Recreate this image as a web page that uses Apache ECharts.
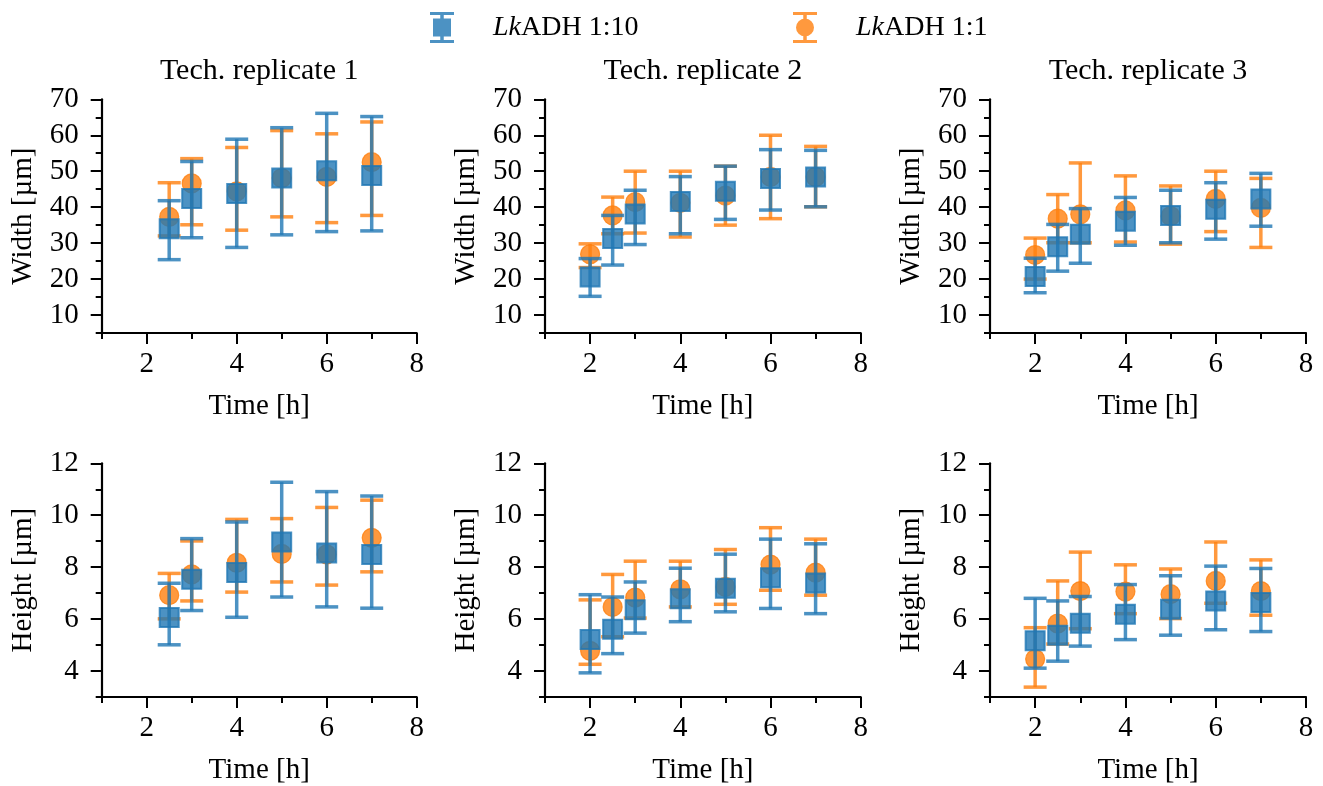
<!DOCTYPE html>
<html><head><meta charset="utf-8">
<script src="https://cdn.jsdelivr.net/npm/echarts@6/dist/echarts.min.js"></script>
<style>html,body{margin:0;padding:0;background:#fff}#c{width:1323px;height:786px}</style>
</head><body><div id="c"></div>
<script>
// ---------- data ----------
const seriesNames = ['LkADH 1:10', 'LkADH 1:1'];
const titles = ['Tech. replicate 1', 'Tech. replicate 2', 'Tech. replicate 3'];
const xTime1 = [2.5, 3, 4, 5, 6, 7];
const xTime23 = [2, 2.5, 3, 4, 5, 6, 7];
const xMajorTicks = [2, 4, 6, 8];
const xMinorTicks = [1, 3, 5, 7];
const widthMajorTicks = [10, 20, 30, 40, 50, 60, 70];
const widthMinorTicks = [5, 15, 25, 35, 45, 55, 65];
const heightMajorTicks = [4, 6, 8, 10, 12];
const heightMinorTicks = [3, 5, 7, 9, 11];

// Width, replicate 1
const w1BlueMean = [34.0, 42.4, 43.8, 48.1, 50.1, 48.8];
const w1BlueLo   = [25.4, 31.5, 28.8, 32.3, 33.2, 33.4];
const w1BlueHi   = [41.8, 52.7, 58.9, 62.1, 66.1, 65.2];
const w1OrgMean  = [37.3, 46.6, 44.4, 48.1, 48.4, 52.5];
const w1OrgLo    = [32.0, 35.1, 33.6, 37.3, 35.7, 37.7];
const w1OrgHi    = [46.8, 53.5, 56.6, 61.3, 60.4, 63.7];
// Width, replicate 2
const w2BlueMean = [20.6, 31.3, 38.1, 41.6, 44.4, 48.0, 48.4];
const w2BlueLo   = [15.2, 23.9, 29.6, 32.6, 36.6, 39.2, 40.1];
const w2BlueHi   = [25.7, 37.7, 44.7, 48.5, 51.4, 56.0, 55.8];
const w2OrgMean  = [26.9, 37.7, 41.4, 41.2, 43.2, 48.4, 48.4];
const w2OrgLo    = [23.2, 32.6, 32.8, 31.7, 35.0, 36.8, 40.1];
const w2OrgHi    = [29.8, 42.8, 50.0, 50.0, 51.4, 60.0, 56.9];
// Width, replicate 3
const w3BlueMean = [20.7, 29.0, 32.5, 36.1, 37.7, 39.4, 42.3];
const w3BlueLo   = [16.2, 22.2, 24.4, 29.4, 30.1, 31.1, 34.7];
const w3BlueHi   = [25.8, 35.2, 39.6, 42.7, 44.7, 46.8, 49.4];
const w3OrgMean  = [26.7, 36.8, 38.0, 39.1, 37.5, 42.3, 39.8];
const w3OrgLo    = [20.0, 30.1, 30.1, 30.3, 29.7, 33.2, 28.8];
const w3OrgHi    = [31.4, 43.5, 52.3, 48.7, 45.9, 50.0, 48.0];
// Height, replicate 1
const h1BlueMean = [6.06, 7.53, 7.79, 8.97, 8.55, 8.49];
const h1BlueLo   = [5.01, 6.33, 6.07, 6.85, 6.47, 6.42];
const h1BlueHi   = [7.38, 9.10, 9.74, 11.27, 10.91, 10.74];
const h1OrgMean  = [6.92, 7.72, 8.17, 8.51, 8.49, 9.13];
const h1OrgLo    = [6.01, 6.70, 7.04, 7.43, 7.31, 7.82];
const h1OrgHi    = [7.76, 9.01, 9.84, 9.87, 10.30, 10.58];
// Height, replicate 2
const h2BlueMean = [5.21, 5.61, 6.36, 6.78, 7.19, 7.59, 7.39];
const h2BlueLo   = [3.93, 4.67, 5.46, 5.90, 6.28, 6.41, 6.21];
const h2BlueHi   = [6.94, 6.85, 7.43, 7.96, 8.50, 9.08, 8.90];
const h2OrgMean  = [4.78, 6.47, 6.83, 7.15, 7.24, 8.10, 7.79];
const h2OrgLo    = [4.26, 5.32, 6.04, 6.47, 6.57, 7.11, 6.92];
const h2OrgHi    = [6.74, 7.72, 8.23, 8.23, 8.68, 9.52, 9.08];
// Height, replicate 3
const h3BlueMean = [5.17, 5.38, 5.84, 6.19, 6.38, 6.70, 6.64];
const h3BlueLo   = [4.11, 4.38, 4.96, 5.21, 5.38, 5.59, 5.52];
const h3BlueHi   = [6.80, 6.70, 6.87, 7.33, 7.67, 8.04, 7.95];
const h3OrgMean  = [4.46, 5.83, 7.08, 7.06, 6.96, 7.47, 7.08];
const h3OrgLo    = [3.38, 5.04, 5.63, 6.21, 6.02, 6.61, 6.15];
const h3OrgHi    = [5.67, 7.47, 8.58, 8.09, 7.93, 8.97, 8.28];

// ---------- style ----------
const FONT = 'Liberation Serif';
const BLUE = 'rgba(31,119,180,0.8)';
const ORANGE = 'rgba(255,127,14,0.8)';
const colLeft = [101.7, 545, 990];
const colWidth = [315, 315.7, 316];
const rowTop = [99.3, 463.3];
const rowHeight = [233.7, 235];

const panels = [
  {row:0,col:0,x:xTime1, yName:'Width [µm]', yMin:5, yMax:70, maj:widthMajorTicks, min:widthMinorTicks,
   b:[w1BlueMean,w1BlueLo,w1BlueHi], o:[w1OrgMean,w1OrgLo,w1OrgHi]},
  {row:0,col:1,x:xTime23, yName:'Width [µm]', yMin:5, yMax:70, maj:widthMajorTicks, min:widthMinorTicks,
   b:[w2BlueMean,w2BlueLo,w2BlueHi], o:[w2OrgMean,w2OrgLo,w2OrgHi]},
  {row:0,col:2,x:xTime23, yName:'Width [µm]', yMin:5, yMax:70, maj:widthMajorTicks, min:widthMinorTicks,
   b:[w3BlueMean,w3BlueLo,w3BlueHi], o:[w3OrgMean,w3OrgLo,w3OrgHi]},
  {row:1,col:0,x:xTime1, yName:'Height [µm]', yMin:3, yMax:12, maj:heightMajorTicks, min:heightMinorTicks,
   b:[h1BlueMean,h1BlueLo,h1BlueHi], o:[h1OrgMean,h1OrgLo,h1OrgHi]},
  {row:1,col:1,x:xTime23, yName:'Height [µm]', yMin:3, yMax:12, maj:heightMajorTicks, min:heightMinorTicks,
   b:[h2BlueMean,h2BlueLo,h2BlueHi], o:[h2OrgMean,h2OrgLo,h2OrgHi]},
  {row:1,col:2,x:xTime23, yName:'Height [µm]', yMin:3, yMax:12, maj:heightMajorTicks, min:heightMinorTicks,
   b:[h3BlueMean,h3BlueLo,h3BlueHi], o:[h3OrgMean,h3OrgLo,h3OrgHi]}
];

function rows(x, arr) { return x.map((v, i) => [v, arr[0][i], arr[1][i], arr[2][i]]); }

function makeRender(shape, color) {
  return function (params, api) {
    const x = api.value(0), m = api.value(1), lo = api.value(2), hi = api.value(3);
    const pM = api.coord([x, m]), pLo = api.coord([x, lo]), pHi = api.coord([x, hi]);
    const cw = 11.5;
    const ls = {stroke: color, lineWidth: 3.5, fill: null};
    const children = [
      {type:'line', shape:{x1:pLo[0], y1:pLo[1], x2:pHi[0], y2:pHi[1]}, style: ls},
      {type:'line', shape:{x1:pLo[0]-cw, y1:pLo[1], x2:pLo[0]+cw, y2:pLo[1]}, style: ls},
      {type:'line', shape:{x1:pHi[0]-cw, y1:pHi[1], x2:pHi[0]+cw, y2:pHi[1]}, style: ls}
    ];
    if (shape === 'square') {
      children.push({type:'rect', shape:{x:pM[0]-9.5, y:pM[1]-9.5, width:19, height:19},
        style:{fill: color, stroke: color, lineWidth: 2}});
    } else {
      children.push({type:'circle', shape:{cx:pM[0], cy:pM[1], r:9.5},
        style:{fill: color, stroke: color, lineWidth: 1.2}});
    }
    return {type:'group', children};
  };
}

const grid = [], xAxis = [], yAxis = [], series = [], title = [];
const axisLabelStyle = {fontFamily: FONT, fontSize: 29, color: '#000'};
panels.forEach((p, i) => {
  grid.push({left: colLeft[p.col], top: rowTop[p.row], width: colWidth[p.col], height: rowHeight[p.row], containLabel: false});
  xAxis.push({type:'value', gridIndex:i, position:'bottom', min:1, max:8,
    axisLine:{show:true, onZero:false, lineStyle:{color:'#000', width:2.2}},
    axisTick:{show:true, customValues: xMajorTicks, length:11, lineStyle:{color:'#000', width:2}},
    axisLabel:{show:true, customValues: xMajorTicks, margin:17, ...axisLabelStyle},
    splitLine:{show:false},
    name:'Time [h]', nameLocation:'middle', nameGap:59,
    nameTextStyle:{fontFamily: FONT, fontSize: 29, color:'#000'}
  });
  xAxis.push({type:'value', gridIndex:i, position:'bottom', min:1, max:8,
    axisLine:{show:false, onZero:false},
    axisTick:{show:true, customValues: xMinorTicks, length:6, lineStyle:{color:'#000', width:2}},
    axisLabel:{show:false}, splitLine:{show:false}
  });
  yAxis.push({type:'value', gridIndex:i, position:'left', min:p.yMin, max:p.yMax,
    axisLine:{show:true, onZero:false, lineStyle:{color:'#000', width:2.2}},
    axisTick:{show:true, customValues: p.maj, length:11, lineStyle:{color:'#000', width:2}},
    axisLabel:{show:true, customValues: p.maj, margin:23, ...axisLabelStyle},
    splitLine:{show:false},
    name:p.yName, nameLocation:'middle', nameGap:64,
    nameTextStyle:{fontFamily: FONT, fontSize: 29, color:'#000'}
  });
  yAxis.push({type:'value', gridIndex:i, position:'left', min:p.yMin, max:p.yMax,
    axisLine:{show:false, onZero:false},
    axisTick:{show:true, customValues: p.min, length:6, lineStyle:{color:'#000', width:2}},
    axisLabel:{show:false}, splitLine:{show:false}
  });
  series.push({type:'custom', name: seriesNames[1], xAxisIndex: 2*i, yAxisIndex: 2*i,
    itemStyle:{color: ORANGE}, data: rows(p.x, p.o), encode:{x:0, y:[1,2,3]},
    renderItem: makeRender('circle', ORANGE), clip:false});
  series.push({type:'custom', name: seriesNames[0], xAxisIndex: 2*i, yAxisIndex: 2*i,
    itemStyle:{color: BLUE}, data: rows(p.x, p.b), encode:{x:0, y:[1,2,3]},
    renderItem: makeRender('square', BLUE), clip:false});
  if (p.row === 0) {
    title.push({text: titles[p.col], left: colLeft[p.col] + colWidth[p.col] / 2, top: 56, textAlign:'center', padding:0,
      textStyle:{fontFamily: FONT, fontSize: 30, fontWeight:'normal', color:'#000'}});
  }
});

const iconSquare = 'path://M0 0H24V3H0Z M0 28H24V31H0Z M10.25 0H13.75V31H10.25Z M3 6.5H21V24.5H3Z';
const iconCircle = 'path://M0 0H24V3H0Z M0 28H24V31H0Z M10.25 0H13.75V31H10.25Z M3 15.5A9 9 0 1 1 21 15.5A9 9 0 1 1 3 15.5Z';
const legendText = {fontFamily: FONT, fontSize: 28, color:'#000',
  rich:{i:{fontFamily: FONT, fontSize: 28, fontStyle:'italic', color:'#000', padding:[0,0,0,34]},
        n:{fontFamily: FONT, fontSize: 28, color:'#000'}}};
const legendFmt = name => '{i|' + name.slice(0, 2) + '}{n|' + name.slice(2) + '}';
const legend = [
  {data:[{name: seriesNames[0], icon: iconSquare, itemStyle:{color: BLUE}}], left: 430, top: 12, padding:0,
   itemWidth: 24, itemHeight: 31, symbolKeepAspect: true, formatter: legendFmt, textStyle: legendText, selectedMode:false},
  {data:[{name: seriesNames[1], icon: iconCircle, itemStyle:{color: ORANGE}}], left: 793, top: 12, padding:0,
   itemWidth: 24, itemHeight: 31, symbolKeepAspect: true, formatter: legendFmt, textStyle: legendText, selectedMode:false}
];

const chart = echarts.init(document.getElementById('c'), null, {renderer:'canvas'});
chart.setOption({animation:false, backgroundColor:'#fff', title, legend, grid, xAxis, yAxis, series});
</script></body></html>
